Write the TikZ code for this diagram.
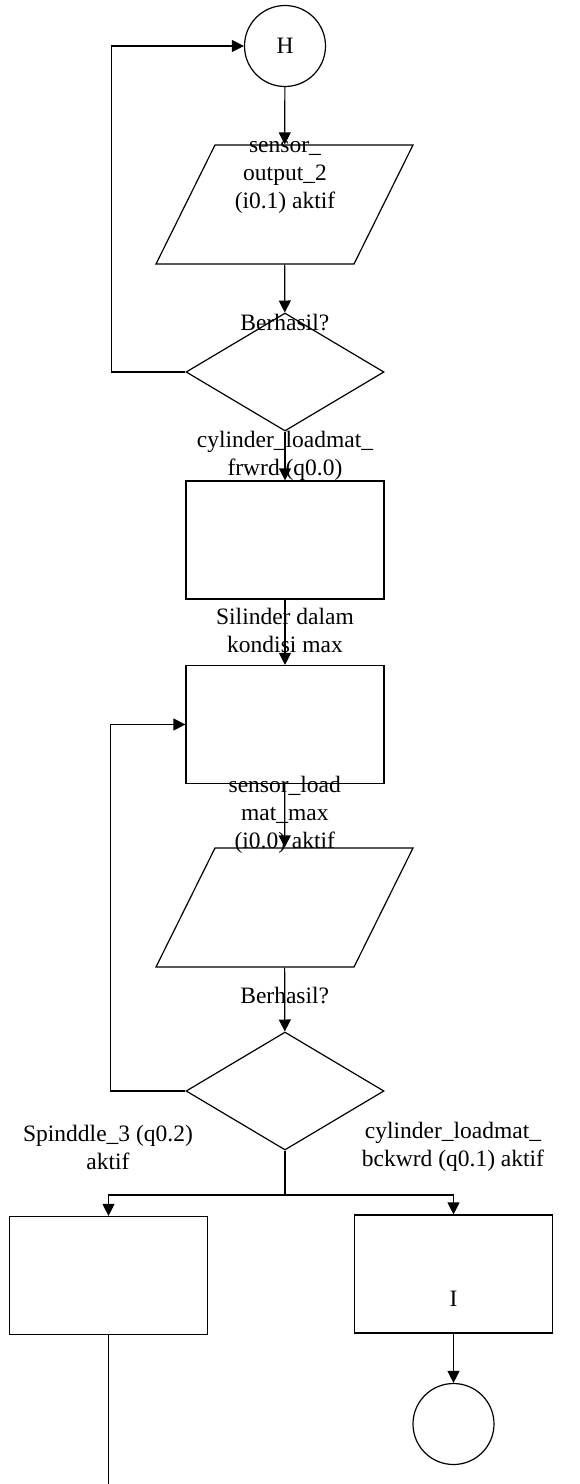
\documentclass[tikz,border=0pt]{standalone}
\usepackage{fontspec}
\setmainfont{Liberation Serif}
\usetikzlibrary{shapes.geometric,arrows.meta}

\begin{document}
\begin{tikzpicture}[x=1pt,y=-1pt,line width=1.2pt,
        >={Triangle[length=12pt,width=12pt]},
        every node/.style={font=\fontsize{23.5}{28}\selectfont},
        konektor/.style={shape=circle,draw=black,minimum size=81pt,inner sep=0pt},
        inputbox/.style={shape=rectangle,draw=black,xslant=0.496,transform shape,
            minimum width=198pt,minimum height=119pt,inner sep=0pt},
        prosesbox/.style={shape=rectangle,draw=black,minimum width=198pt,minimum height=118pt,inner sep=0pt},
        keputusan/.style={shape=diamond,draw=black,minimum width=198pt,minimum height=118pt,inner sep=0pt},
        teks/.style={align=center,inner sep=0pt}]
            \useasboundingbox (0,0) rectangle (580,1484);
            \node[konektor] (H) at (285,46) {H};
            \node[inputbox] (in1) at (284.5,204.5) {};
            \node[teks] (in1teks) at (285,177) {sensor\_\\output\_2\\(i0.1) aktif};
            \node[keputusan] (d1) at (285,372) {};
            \node[prosesbox] (p1) at (285,540) {};
            \node[prosesbox] (p2) at (285,724.5) {};
            \node[inputbox] (in2) at (284.5,907.5) {};
            \node[keputusan] (d2) at (285,1091) {};
            \node[prosesbox] (p3) at (108.5,1275.5) {};
            \node[prosesbox,label={[teks,yshift=-25pt]center:I}] (p4) at (453.5,1274) {};
            \node[konektor] (selesai) at (453.5,1424) {};
            \node[teks] (lblkiri) at (108,1147) {Spinddle\_3 (q0.2)\\aktif};
            \node[teks] (lblkanan) at (453,1147) {cylinder\_loadmat\_\\bckwrd (q0.1) aktif};
            \coordinate (cabang) at (285,1195);
            \coordinate (ujung) at (108.5,1484);
            \path [->] (H) edge (in1);
            \path [->] (in1) edge node[teks,pos=1.2] {Berhasil?} (d1);
            \path [->] (d1) edge node[teks] {cylinder\_loadmat\_\\frwrd (q0.0)} (p1);
            \path [->] (p1) edge node[teks,pos=0.47] {Silinder dalam\\kondisi max} (p2);
            \path [->] (p2) edge node[teks,pos=0.48] {sensor\_load\\mat\_max\\(i0.0) aktif} (in2);
            \path [->] (in2) edge node[teks,pos=0.43] {Berhasil?} (d2);
            \draw [->] (d1.west) -- ++(-74,0) |- (H.west);
            \draw [->] (d2.west) -- ++(-75,0) |- (p2.west);
            \draw (d2.south) -- (cabang);
            \draw [->] (cabang) -| (p3.north);
            \draw [->] (cabang) -| (p4.north);
            \draw (p3.south) -- (ujung);
            \path [->] (p4) edge (selesai);
        \end{tikzpicture}
\end{document}
